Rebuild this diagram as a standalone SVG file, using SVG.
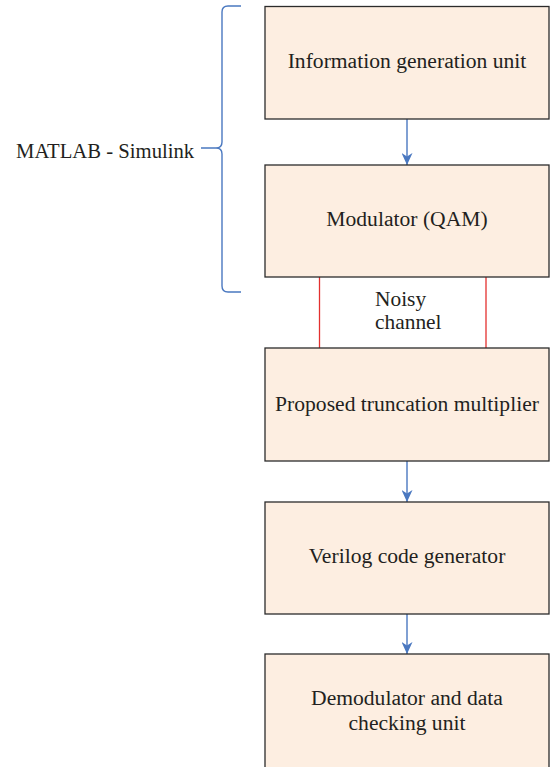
<svg xmlns="http://www.w3.org/2000/svg" width="551" height="767" viewBox="0 0 551 767">
<style>
.box{fill:#fdeee1;stroke:#2b2b2b;stroke-width:1.3}
.t{font-family:"Liberation Serif","DejaVu Serif",serif;font-size:21.6px;fill:#231f20;text-anchor:middle}
.lbl{font-family:"Liberation Serif","DejaVu Serif",serif;font-size:21.4px;fill:#231f20}
.arr{stroke:#4a78c0;stroke-width:1.4;fill:none}
.red{stroke:#e3302e;stroke-width:1.3}
</style>
<defs>
<marker id="ah2" markerWidth="12" markerHeight="11" refX="12" refY="5.5" orient="auto" markerUnits="userSpaceOnUse">
<path d="M0,0 L3.5,5.5 L0,11 L12,5.5 Z" fill="#4a78c0"/>
</marker>
</defs>
<g id="bracket">
<path class="arr" d="M241,6 H228 Q222,6 222,12 V142 Q222,148 216,148 H201 M216,148 Q222,148 222,154 V286 Q222,292 228,292 H241"/>
<text class="lbl" x="16" y="158" style="font-size:20.7px">MATLAB - Simulink</text>
</g>
<g id="connectors">
<line class="arr" x1="407" y1="119" x2="407" y2="165" marker-end="url(#ah2)"/>
<line class="arr" x1="407" y1="461" x2="407" y2="502" marker-end="url(#ah2)"/>
<line class="arr" x1="407" y1="614" x2="407" y2="654" marker-end="url(#ah2)"/>
<line class="red" x1="319.5" y1="277" x2="319.5" y2="348"/>
<line class="red" x1="486" y1="277" x2="486" y2="348"/>
</g>
<g id="noisy">
<text class="lbl" x="375" y="306">Noisy</text>
<text class="lbl" x="375" y="329">channel</text>
</g>
<g id="n1">
<rect class="box" x="265" y="6.5" width="284" height="112.5"/>
<text class="t" x="407" y="68">Information generation unit</text>
</g>
<g id="n2">
<rect class="box" x="265" y="165" width="284" height="112"/>
<text class="t" x="407" y="226">Modulator (QAM)</text>
</g>
<g id="n3">
<rect class="box" x="265" y="348" width="284" height="113"/>
<text class="t" x="407" y="411">Proposed truncation multiplier</text>
</g>
<g id="n4">
<rect class="box" x="265" y="502" width="284" height="112"/>
<text class="t" x="407" y="563">Verilog code generator</text>
</g>
<g id="n5">
<rect class="box" x="265" y="654" width="284" height="120"/>
<text class="t" x="407" y="705">Demodulator and data</text>
<text class="t" x="407" y="730">checking unit</text>
</g>
</svg>
